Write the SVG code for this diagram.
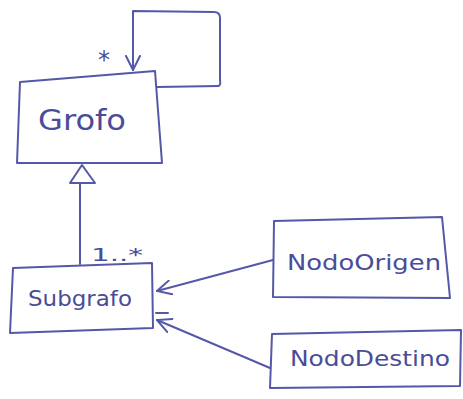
<svg xmlns="http://www.w3.org/2000/svg" width="463" height="399" viewBox="0 0 463 399">
<defs>
<style>
.ln{fill:none;stroke:#5558a8;stroke-width:2;stroke-linejoin:round;stroke-linecap:round}
.bx{fill:#fff;stroke:#5558a8;stroke-width:2;stroke-linejoin:round}
.tx{font-family:"DejaVu Sans","Liberation Sans",sans-serif;fill:#4a4c98;text-anchor:middle}
</style>
<marker id="open" viewBox="0 0 16 16" refX="15" refY="8" markerWidth="16" markerHeight="16" markerUnits="userSpaceOnUse" orient="auto">
<path d="M1,1 L15,8 L1,15" fill="none" stroke="#5558a8" stroke-width="2" stroke-linecap="round"/>
</marker>
</defs>
<rect width="463" height="399" fill="#fff"/>
<g id="connectors">
<path class="ln" d="M157,87 L218,86 Q221,86 220,80 L220,18 Q220,12 214,12 L133,11 L133,70" marker-end="url(#open)"/>
<path class="ln" d="M80,264 L80,183"/>
<path class="ln" d="M80,183 L70,183 L82,165 L95,183 Z" fill="#fff"/>
<path class="ln" d="M273,260 L157,291" marker-end="url(#open)"/>
<path class="ln" d="M270,368 L157,320" marker-end="url(#open)"/>
<path class="ln" d="M156,313 L168,313"/>
<text class="tx" x="104" y="68" font-size="24">*</text>
<text class="tx" x="117" y="261" font-size="18" textLength="52" lengthAdjust="spacingAndGlyphs">1..*</text>
</g>
<g id="Grofo">
<path class="bx" d="M20,82 L155,71 L162,163 L17,163 Z"/>
<text class="tx" x="82" y="130" font-size="28" textLength="88" lengthAdjust="spacingAndGlyphs">Grofo</text>
</g>
<g id="Subgrafo">
<path class="bx" d="M13,268 L152,263 L153,328 L10,333 Z"/>
<text class="tx" x="80" y="306" font-size="22" textLength="104" lengthAdjust="spacingAndGlyphs">Subgrafo</text>
</g>
<g id="NodoOrigen">
<path class="bx" d="M274,221 L442,217 L450,298 L273,297 Z"/>
<text class="tx" x="364" y="270" font-size="22" textLength="154" lengthAdjust="spacingAndGlyphs">NodoOrigen</text>
</g>
<g id="NodoDestino">
<path class="bx" d="M272,334 L461,330 L460,386 L270,388 Z"/>
<text class="tx" x="370" y="366" font-size="22" textLength="160" lengthAdjust="spacingAndGlyphs">NodoDestino</text>
</g>
</svg>
